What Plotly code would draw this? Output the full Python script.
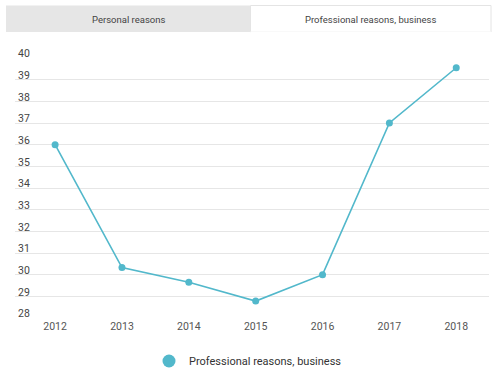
import plotly.graph_objects as go

years = ["2012", "2013", "2014", "2015", "2016", "2017", "2018"]
values = [36.0, 30.33, 29.65, 28.78, 30.0, 37.0, 39.55]
series_name = "Professional reasons, business"
tab_labels = ["Personal reasons", "Professional reasons, business"]
y_ticks = list(range(28, 41))

color = "#52b8cb"
W, H = 500, 376
L, R, T, B = 15, 11, 58, 58
pw, ph = W - L - R, H - T - B

def px(x):
    return (x - L) / pw

def py(y):
    return (H - B - y) / ph

fig = go.Figure()
fig.add_trace(go.Scatter(
    x=years, y=values, mode="lines+markers",
    line=dict(color=color, width=1.6),
    marker=dict(color=color, size=7),
    showlegend=False, hoverinfo="x+y",
))
fig.add_trace(go.Scatter(
    x=[None], y=[None], mode="markers", name=series_name,
    marker=dict(color=color, size=13),
    showlegend=True,
))

shapes = [
    dict(type="rect", xref="paper", yref="paper", x0=px(6), x1=px(250.5), y0=py(32), y1=py(5.5),
         fillcolor="#e6e6e6", line=dict(width=0), layer="below"),
    dict(type="rect", xref="paper", yref="paper", x0=px(250.5), x1=px(491), y0=py(32), y1=py(5.5),
         fillcolor="#ffffff", line=dict(color="#e4e4e4", width=1), layer="below"),
    dict(type="rect", xref="paper", yref="paper", x0=px(250.5), x1=px(491), y0=py(33), y1=py(31.5),
         fillcolor="#ffffff", line=dict(width=0), layer="below"),
]
annotations = [
    dict(text=tab_labels[0], xref="paper", yref="paper", x=px(128), y=py(19), showarrow=False,
         font=dict(size=9.5, color="#444"), xanchor="center", yanchor="middle"),
    dict(text=tab_labels[1], xref="paper", yref="paper", x=px(370), y=py(19), showarrow=False,
         font=dict(size=9.5, color="#444"), xanchor="center", yanchor="middle"),
]

fig.update_layout(
    width=W, height=H,
    margin=dict(l=L, r=R, t=T, b=B, autoexpand=False),
    paper_bgcolor="white", plot_bgcolor="white",
    font=dict(family="Roboto, sans-serif", size=11, color="#444"),
    xaxis=dict(type="category", range=[-0.6, 6.49], showgrid=False, zeroline=False,
               showline=False, ticks="", tickfont=dict(size=10.5, color="#555")),
    yaxis=dict(range=[28, 40], tickvals=y_ticks, showgrid=True, gridcolor="#e6e6e6",
               gridwidth=1, zeroline=False, showline=False, ticks="",
               ticklabelposition="inside top", ticklabeloverflow="allow",
               ticklabelshift=3,
               tickfont=dict(size=10.5, color="#444")),
    legend=dict(orientation="h", xref="container", x=149 / W, xanchor="left",
                yref="container", y=(H - 361) / H, yanchor="middle",
                font=dict(size=11, color="#333"), itemsizing="trace"),
    shapes=shapes, annotations=annotations,
)

fig.write_html("out.html", config={"displayModeBar": False},
               post_script="document.body.style.margin='0';document.body.style.overflow='hidden';")
